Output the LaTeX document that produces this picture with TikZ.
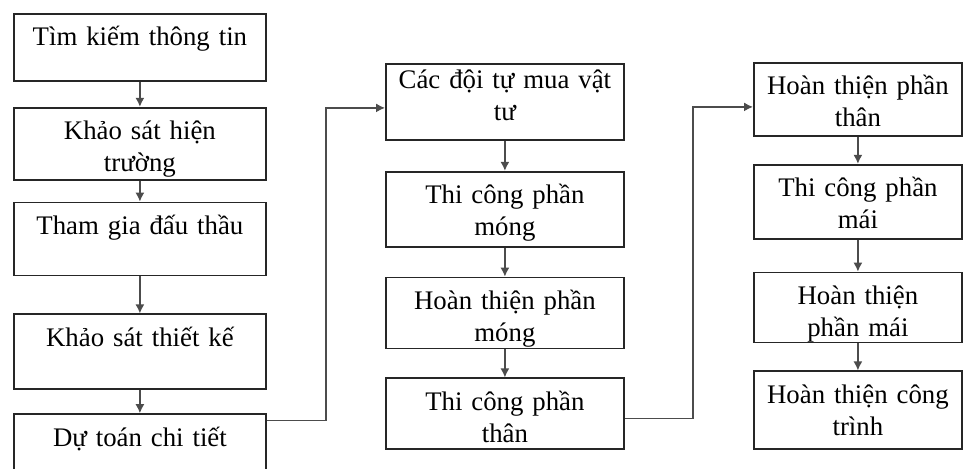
\documentclass[tikz,border=0pt]{standalone}
\usepackage{fontspec}
\setmainfont{Liberation Serif}
\usetikzlibrary{positioning, arrows.meta}

\begin{document}
\begin{tikzpicture}[x=0.5pt, y=-0.5pt,
        box/.style={draw=black!85, rectangle, line width=0.9pt, anchor=north, align=center,
            inner xsep=0pt, inner ysep=3pt, text height=13pt, text depth=#1,
            font=\fontsize{13.4}{16}\selectfont},
        cot1/.style={box=#1, text width=126pt},
        cot2/.style={box=#1, text width=119pt},
        cot3/.style={box=#1, text width=104pt},
        lig/.style={->, draw=black!70, line width=0.7pt},
        >={Latex[length=4.5pt, width=4.5pt]}]

        \useasboundingbox (0,0) rectangle (963,468);
        \clip (0,0) rectangle (963,468);

        % Cột 1
        \node (tim) [cot1=14.5pt, anchor=north west] at (13,13) {Tìm kiếm thông tin};
        \node (ksht) [cot1=17pt, below=12.5pt of tim] {Khảo sát hiện\\trường};
        \node (dauthau) [cot1=17.5pt, below=10.5pt of ksht] {Tham gia đấu thầu};
        \node (kstk) [cot1=18.5pt, below=18.5pt of dauthau] {Khảo sát thiết kế};
        \node (dutoan) [cot1=26pt, below=11.5pt of kstk] {Dự toán chi tiết};

        % Cột 2
        \node (vattu) [cot2=22.5pt, text height=9.5pt, anchor=north west] at (385,63) {Các đội tự mua vật\\tư};
        \node (tcmong) [cot2=18.5pt, below=15pt of vattu] {Thi công phần\\móng};
        \node (htmong) [cot2=16.5pt, below=14.5pt of tcmong] {Hoàn thiện phần\\móng};
        \node (tcthan) [cot2=16.5pt, below=14pt of htmong] {Thi công phần\\thân};

        % Cột 3
        \node (htthan) [cot3=17.5pt, anchor=north west] at (753,62) {Hoàn thiện phần\\thân};
        \node (tcmai) [cot3=18pt, below=13.5pt of htthan] {Thi công phần\\mái};
        \node (htmai) [cot3=16pt, below=16pt of tcmai] {Hoàn thiện\\phần mái};
        \node (htct) [cot3=20pt, below=13.5pt of htmai] {Hoàn thiện công\\trình};

        % Mũi tên trong cột
        \draw[lig] (tim) -- (ksht);
        \draw[lig] (ksht) -- (dauthau);
        \draw[lig] (dauthau) -- (kstk);
        \draw[lig] (kstk) -- (dutoan);
        \draw[lig] (vattu) -- (tcmong);
        \draw[lig] (tcmong) -- (htmong);
        \draw[lig] (htmong) -- (tcthan);
        \draw[lig] (htthan) -- (tcmai);
        \draw[lig] (tcmai) -- (htmai);
        \draw[lig] (htmai) -- (htct);

        % Nối giữa các cột
        \coordinate (ra1) at ([yshift=-3.5pt]dutoan.north east);
        \draw[lig] (ra1) -- ++(59,0) |- ([yshift=-3pt]vattu.west);
        \coordinate (ra2) at ([yshift=-2.25pt]tcthan.east);
        \draw[lig] (ra2) -- ++(68,0) |- ([yshift=-3.75pt]htthan.west);

    \end{tikzpicture}
\end{document}
